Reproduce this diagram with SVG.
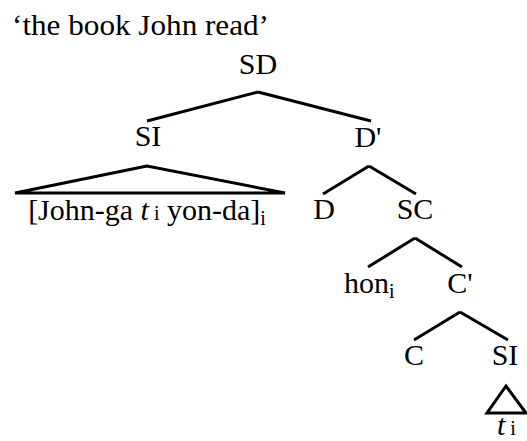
<svg xmlns="http://www.w3.org/2000/svg" width="527" height="441" viewBox="0 0 527 441" font-family="Liberation Serif, DejaVu Serif, serif">
<style>
text{font-size:30px;fill:#000}
.m{text-anchor:middle}
.sm{font-size:20px}
.it{font-style:italic}
line,polygon{stroke:#000;stroke-width:3;fill:none;stroke-linecap:butt}
</style>
<rect width="527" height="441" fill="#fff"/>
<text id="title" x="12" y="35" textLength="257" lengthAdjust="spacingAndGlyphs">‘the book John read’</text>
<g id="connectors">
<line x1="258" y1="92" x2="147" y2="121"/>
<line x1="258" y1="92" x2="371" y2="121"/>
<polygon points="147,166 15,193 285,193"/>
<line x1="369" y1="166" x2="323" y2="194"/>
<line x1="369" y1="166" x2="416" y2="194"/>
<line x1="415" y1="238" x2="368" y2="267"/>
<line x1="415" y1="238" x2="462" y2="267"/>
<line x1="460" y1="312" x2="414" y2="340"/>
<line x1="460" y1="312" x2="508" y2="340"/>
<polygon points="506,386 487,413 526,413"/>
</g>
<g id="SD"><text class="m" x="258" y="74">SD</text></g>
<g id="SI1"><text class="m" x="148" y="146">SI</text></g>
<g id="clause"><text class="m" x="147" y="220">[John-ga <tspan class="it">t</tspan><tspan class="sm"> i</tspan> yon-da]<tspan class="sm" dy="5">i</tspan></text></g>
<g id="Dbar"><text class="m" x="368" y="147">D'</text></g>
<g id="D"><text class="m" x="324" y="219">D</text></g>
<g id="SC"><text class="m" x="415" y="219">SC</text></g>
<g id="hon"><text x="344" y="293">hon<tspan class="sm" dy="5">i</tspan></text></g>
<g id="Cbar"><text class="m" x="460" y="293">C'</text></g>
<g id="C"><text class="m" x="414" y="365">C</text></g>
<g id="SI2"><text class="m" x="505" y="365">SI</text></g>
<g id="trace"><text x="497" y="435"><tspan class="it">t</tspan><tspan class="sm"> i</tspan></text></g>
</svg>
